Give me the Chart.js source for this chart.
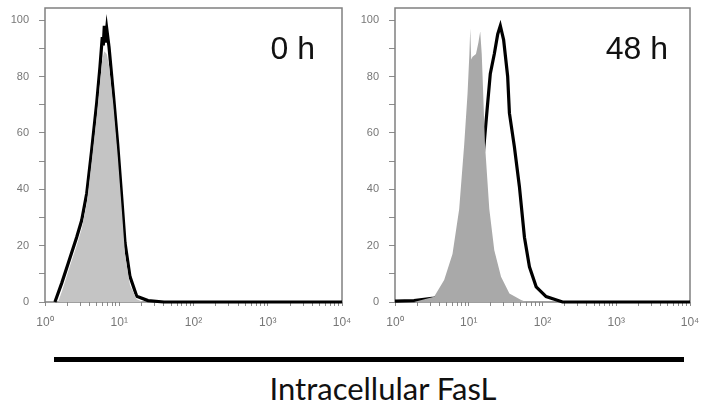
<!DOCTYPE html>
<html>
<head>
<meta charset="utf-8">
<script src="https://cdn.jsdelivr.net/npm/chart.js@4"></script>
<style>
  html, body { margin: 0; padding: 0; background: #fff; }
  #wrap { position: relative; width: 701px; height: 406px; overflow: hidden; }
  canvas { position: absolute; top: 0; }
  #left { left: 0; }
  #right { left: 350px; }
  #bar { position: absolute; left: 54px; top: 357px; width: 630px; height: 5px; background: #000; }
  #title { position: absolute; left: 183px; top: 370px; width: 400px; text-align: center;
           font-family: Lato, "Open Sans", sans-serif; font-size: 31px; line-height: 37px; color: #111; }
</style>
</head>
<body>
<div id="wrap">
  <canvas id="left" width="360" height="340"></canvas>
  <canvas id="right" width="351" height="340"></canvas>
  <div id="bar"></div>
  <div id="title">Intracellular FasL</div>
</div>
<script>
// axis labels
const ticksX = ["10\u2070", "10\u00b9", "10\u00b2", "10\u00b3", "10\u2074"];
const ticksY = [0, 20, 40, 60, 80, 100];
const panelLabels = ["0 h", "48 h"];

// 0 h panel
const h0LineX = [1.36, 1.68, 2.06, 2.67, 3.12, 3.65, 4.26, 4.97, 5.5, 5.91, 6.1, 6.29, 6.5, 6.78, 7.28, 8.32, 9.53, 10.8, 11.96, 13.95, 17.2, 24.4, 40, 10000];
const h0LineY = [0, 6.7, 13.8, 23, 29, 38.6, 54, 70.6, 83.4, 94, 91, 98, 92, 97, 90.5, 74, 56, 37, 21, 9, 2, 0.5, 0, 0];
const h0FillX = [1.5, 1.7, 2.06, 2.67, 3.12, 3.65, 4.26, 4.97, 5.5, 5.91, 6.29, 6.78, 7.28, 8.32, 9.53, 10.8, 11.96, 13.95, 17.2, 21];
const h0FillY = [0, 4, 11, 20, 26, 35, 50, 66, 78, 86, 89, 88, 84, 70, 52, 33, 17, 6, 1, 0];

// 48 h panel
const h48LineX = [1, 1.81, 3.39, 5.15, 7.83, 10.2, 11.9, 12.9, 14.3, 15.9, 17.7, 19.6, 22.2, 24.7, 26.8, 29.7, 33.7, 35.6, 41.6, 48.6, 56.9, 66.5, 82.1, 112, 187, 10000];
const h48LineY = [0.3, 0.5, 1.4, 3, 7.2, 12.5, 23, 28, 37, 54, 68, 81, 88, 95, 98, 93, 80, 67, 55, 41, 23, 12.5, 5.4, 1.9, 0, 0];
const h48FillX = [1.81, 3.39, 4.64, 6.02, 7.42, 8.68, 9.63, 10.2, 10.48, 10.8, 11.26, 12.53, 13.5, 14.3, 15.0, 15.4, 16.6, 19.0, 22.2, 27.4, 35.6, 51.3, 60];
const h48FillY = [0, 1.9, 7.8, 17, 33, 56, 74, 88, 97, 86, 87, 88, 92, 96, 88, 80, 56, 33, 18.4, 9, 3, 0.7, 0];

function pts(xs, ys) {
    return xs.map((x, i) => ({ x: x, y: ys[i] }));
}

// tick labels may hang over the edges without shrinking the plot
function noOverhang(s) {
    s.paddingTop = 0;
    s.paddingBottom = 0;
    s.paddingLeft = 0;
    s.paddingRight = 0;
}

const framePlugin = {
    id: "frame",
    beforeDatasetsDraw(chart) {
        const a = chart.chartArea, ctx = chart.ctx;
        ctx.save();
        ctx.strokeStyle = "#808080";
        ctx.lineWidth = 1.5;
        ctx.strokeRect(a.left, a.top, a.right - a.left, a.bottom - a.top);
        ctx.restore();
    },
    afterDatasetsDraw(chart, args, opts) {
        const a = chart.chartArea, ctx = chart.ctx;
        ctx.save();
        ctx.fillStyle = "#111";
        ctx.font = "32px 'Liberation Sans', Arial, sans-serif";
        ctx.textAlign = "right";
        ctx.textBaseline = "alphabetic";
        ctx.fillText(opts.text, a.right - opts.inset, 59);
        ctx.restore();
    }
};

function makeChart(id, lineData, fillData, fillColor, label, inset, padRight) {
    const minorX = [];
    for (let d = 1; d < 10000; d *= 10) {
        for (let k = 1; k < 10; k++) minorX.push(d * k);
    }
    minorX.push(10000);

    return new Chart(document.getElementById(id), {
        type: "line",
        data: {
            datasets: [{
                data: fillData,
                borderWidth: 0,
                backgroundColor: fillColor,
                fill: "origin",
                pointRadius: 0,
                tension: 0
            }, {
                data: lineData,
                borderColor: "#000",
                borderWidth: 3.2,
                fill: false,
                pointRadius: 0,
                tension: 0,
                clip: 3
            }]
        },
        options: {
            responsive: false,
            animation: false,
            devicePixelRatio: 1,
            layout: { padding: { top: 8, right: padRight, left: 0, bottom: 0 } },
            plugins: {
                legend: { display: false },
                tooltip: { enabled: false },
                frame: { text: label, inset: inset }
            },
            scales: {
                x: {
                    type: "logarithmic",
                    min: 1,
                    max: 10000,
                    border: { display: false },
                    grid: { drawOnChartArea: false, tickLength: 4, color: "#8c8c8c" },
                    afterBuildTicks: (s) => { s.ticks = minorX.map(v => ({ value: v })); },
                    afterFit: (s) => { s.height = 38; noOverhang(s); },
                    ticks: {
                        autoSkip: false,
                        maxRotation: 0,
                        padding: 9,
                        color: "#777",
                        font: { size: 12, family: "'Liberation Sans', Arial, sans-serif" },
                        callback: (v) => {
                            const p = Math.log10(v);
                            return Math.abs(p - Math.round(p)) < 1e-9 ? ticksX[Math.round(p)] : "";
                        }
                    }
                },
                y: {
                    min: 0,
                    max: 104.3,
                    border: { display: false },
                    grid: { drawOnChartArea: false, tickLength: 6, color: "#8c8c8c" },
                    afterBuildTicks: (s) => {
                        const t = [];
                        for (let v = 0; v <= 100; v += 10) t.push({ value: v });
                        s.ticks = t;
                    },
                    afterFit: (s) => { s.width = 45; noOverhang(s); },
                    ticks: {
                        padding: 10,
                        color: "#777",
                        font: { size: 11, family: "'Liberation Sans', Arial, sans-serif" },
                        callback: (v) => ticksY.includes(v) ? String(v) : ""
                    }
                }
            }
        },
        plugins: [framePlugin]
    });
}

makeChart("left", pts(h0LineX, h0LineY), pts(h0FillX, h0FillY), "#c4c4c4", panelLabels[0], 27, 18);
makeChart("right", pts(h48LineX, h48LineY), pts(h48FillX, h48FillY), "#a9a9a9", panelLabels[1], 22, 11);
</script>
</body>
</html>
